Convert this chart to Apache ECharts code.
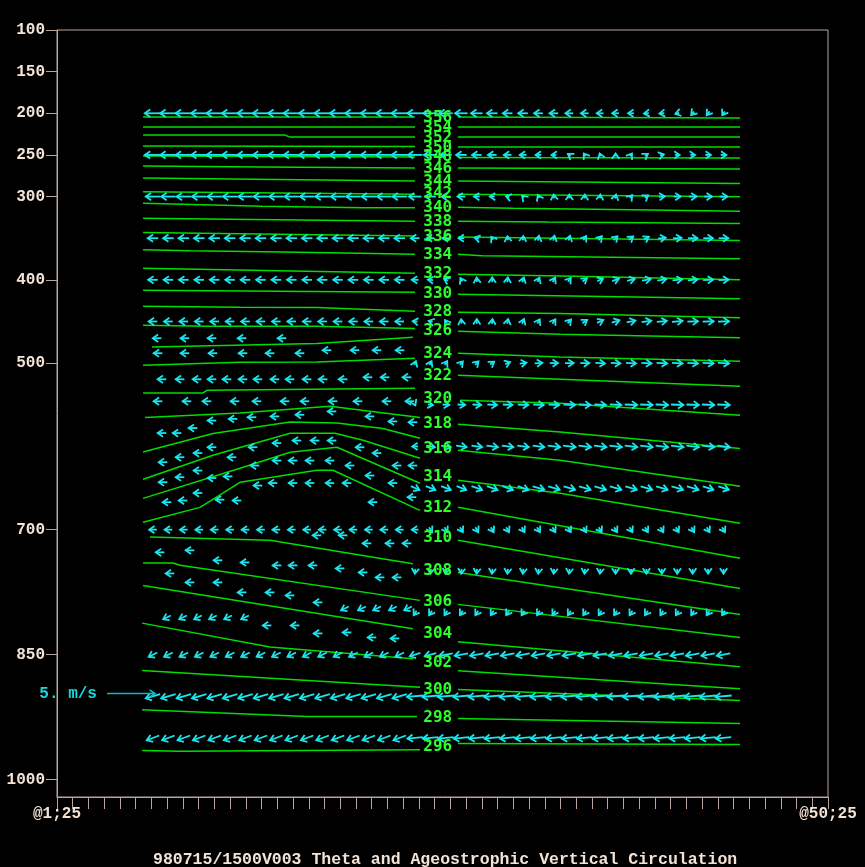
<!DOCTYPE html>
<html><head><meta charset="utf-8">
<script src="https://cdn.jsdelivr.net/npm/echarts@6/dist/echarts.min.js"></script>
<style>html,body{margin:0;padding:0;background:#000;}#c{width:865px;height:867px;}</style>
</head><body><div id="c"></div>
<script>
// ---------- axes / text ----------
const pressureTicks = [100,150,200,250,300,400,500,700,850,1000];
const xTickPos = [1,50];
const xTickLabels = ['@1;25','@50;25'];
const titleText = '980715/1500V003 Theta and Ageostrophic Vertical Circulation';
const refArrow = [5.70, 896.7, 5, 0, '5. m/s'];

// ---------- theta contours ----------
const thetaLevels = [356,354,352,350,348,346,344,342,340,338,336,334,332,330,328,326,324,322,320,318,316,314,312,310,308,306,304,302,300,298,296];
const thetaLabelX = 25.2;
const thetaLabelP = [205.7,217.8,229.8,241.8,252.6,267.0,282.6,297.1,313.9,330.7,348.7,370.4,393.2,417.2,438.8,461.7,489.3,515.8,543.4,573.4,603.5,637.1,673.2,710.4,748.9,786.1,824.6,859.4,891.9,925.5,960.4];
const thetaLeft = [
 [[6.47,204.5],[23.75,204.5]],
 [[6.47,216.6],[23.75,216.6]],
 [[6.47,226.2],[15.49,226.2],[15.81,228.6],[23.75,228.6]],
 [[6.47,239.4],[23.75,240.0]],
 [[6.47,251.4],[23.75,252.6]],
 [[6.47,263.4],[14.0,264.6],[23.75,265.8]],
 [[6.47,277.8],[15.0,279.6],[23.75,281.4]],
 [[6.47,294.1],[23.75,297.1]],
 [[6.47,307.9],[14.03,311.5],[20.45,313.3],[23.75,313.3]],
 [[6.47,325.9],[11.99,327.1],[17.91,328.3],[23.75,329.5]],
 [[6.47,343.3],[23.75,347.5]],
 [[6.47,363.8],[9.45,365.2],[14.22,366.4],[18.35,367.6],[23.75,369.2]],
 [[6.47,386.0],[23.75,392.0]],
 [[6.47,412.4],[23.75,414.8]],
 [[6.47,431.6],[12.63,432.8],[17.52,433.2],[23.75,437.6]],
 [[6.47,454.5],[10.53,455.7],[17.52,455.7],[23.75,458.4]],
 [[7.04,480.5],[17.52,476.5],[23.62,468.9]],
 [[6.47,502.5],[12.63,498.9],[17.52,498.6],[23.75,494.1]],
 [[6.47,535.8],[10.28,535.8],[10.53,532.6],[23.75,530.2]],
 [[6.59,565.4],[12.63,559.9],[18.35,551.8],[24.07,565.4]],
 [[6.47,606.7],[10.91,584.6],[15.81,570.7],[18.79,571.9],[21.72,578.6],[24.07,590.3]],
 [[6.47,639.5],[10.91,610.7],[15.81,584.2],[18.67,584.2],[20.45,592.7],[24.07,614.3]],
 [[6.47,662.4],[12.63,626.3],[15.81,607.1],[18.79,601.1],[24.07,644.3]],
 [[6.47,691.2],[10.09,673.2],[12.63,643.1],[17.52,628.7],[18.54,628.7],[24.07,676.8]],
 [[6.91,708.9],[14.54,712.8],[23.62,740.8]],
 [[6.47,740.1],[8.37,740.1],[8.82,742.8],[24.07,784.9]],
 [[6.47,766.9],[23.62,819.0]],
 [[6.41,812.2],[14.54,841.0],[23.62,855.0]],
 [[6.41,869.0],[24.07,889.1]],
 [[6.41,916.2],[16.89,924.3],[23.88,924.3]],
 [[6.41,965.2],[8.82,966.0],[24.07,964.3]]
];
const thetaRight = [
 [[26.48,204.5],[44.41,205.7]],
 [[26.48,216.6],[44.41,216.6]],
 [[26.48,228.6],[44.41,228.6]],
 [[26.48,240.6],[44.41,240.6]],
 [[26.48,253.2],[44.41,253.8]],
 [[26.48,265.8],[44.41,267.0]],
 [[26.48,281.4],[44.41,284.4]],
 [[26.48,297.1],[44.41,300.1]],
 [[26.48,312.7],[29.98,313.9],[37.61,315.9],[44.41,317.5]],
 [[26.48,329.5],[32.2,330.7],[44.41,332.5]],
 [[26.48,348.7],[44.41,352.9]],
 [[26.48,369.2],[28.01,371.2],[36.27,372.8],[44.41,374.6]],
 [[26.48,393.2],[33.92,395.6],[44.41,399.8]],
 [[26.48,417.2],[37.73,420.5],[44.41,422.6]],
 [[26.48,438.8],[32.97,440.4],[44.41,445.5]],
 [[26.48,461.7],[32.97,465.3],[44.41,469.5]],
 [[26.48,488.1],[32.97,492.6],[44.41,497.7]],
 [[26.48,514.6],[32.97,519.4],[44.41,527.8]],
 [[26.61,544.6],[32.97,548.2],[44.41,562.6]],
 [[26.48,573.4],[32.97,582.7],[44.41,602.6]],
 [[26.48,604.7],[32.97,616.7],[44.41,647.9]],
 [[26.48,640.7],[32.97,656.3],[44.41,692.4]],
 [[26.48,673.2],[44.41,734.4]],
 [[26.48,712.8],[44.41,770.5]],
 [[26.48,751.3],[44.41,801.8]],
 [[26.48,789.7],[44.41,829.4]],
 [[26.48,834.6],[44.41,864.6]],
 [[26.48,869.4],[44.41,891.0]],
 [[26.48,891.9],[44.41,905.1]],
 [[26.48,926.6],[44.41,932.6]],
 [[26.48,956.7],[44.41,957.9]]
];

// ---------- ageostrophic circulation arrows (u, w in m/s) ----------
const arrowX = [7.1,8.08,9.06,10.04,11.02,12.0,12.98,13.96,14.94,15.92,16.9,17.88,18.86,19.84,20.82,21.8,22.78,23.76,24.74,25.72,26.7,27.68,28.66,29.64,30.62,31.6,32.58,33.56,34.54,35.52,36.5,37.48,38.46,39.44,40.42,41.4,42.38,43.36];
const rowP = [200,250,300,350,400,450,500,550,600,650,700,750,800,850,900,950];
const N = null;
const rowU = [
 [-1.7,-1.7,-1.7,-1.7,-1.7,-1.7,-1.7,-1.7,-1.7,-1.7, -1.7,-1.7,-1.7,-1.7,-1.7,-1.7,-1.7,-1.6,-1.5,-1.4, -1.3,-1.2,-1.1,-1.0,-1.0,-0.9,-0.9,-0.8,-0.8,-0.7, -0.7,-0.6,-0.5,-0.5,-0.4,-0.3,-0.3,-0.25],
 [-1.7,-1.7,-1.7,-1.7,-1.7,-1.7,-1.7,-1.7,-1.7,-1.7, -1.7,-1.7,-1.7,-1.7,-1.7,-1.7,-1.7,-1.5,-1.4,-1.2, -1.1,-1.0,-0.9,-0.8,-0.7,-0.6,-0.5,-0.3,-0.2,-0.1, 0,0.2,0.3,0.4,0.5,0.5,0.6,0.6],
 [-1.5,-1.5,-1.5,-1.5,-1.5,-1.5,-1.5,-1.5,-1.5,-1.5, -1.5,-1.5,-1.5,-1.5,-1.5,-1.5,-1.5,-1.3,-1.1,-0.9, -0.8,-0.6,-0.5,-0.35,-0.2,-0.15,-0.05,0,0.02,0.05, 0.1,0.25,0.35,0.6,0.7,0.8,0.8,0.8],
 [-1.1,-1.1,-1.1,-1.1,-1.1,-1.1,-1.1,-1.1,-1.1,-1.1, -1.1,-1.1,-1.1,-1.1,-1.1,-1.1,-1.1,-0.9,-0.8,-0.7, -0.6,-0.45,-0.2,-0.05,0.05,0.1,0.12,0.15,0.3,0.35, 0.4,0.45,0.5,0.8,0.9,1.0,1.0,1.0],
 [-1.0,-1.0,-1.0,-1.0,-1.0,-1.0,-1.0,-1.0,-1.0,-1.0, -1.0,-1.0,-1.0,-1.0,-1.0,-1.0,-1.0,-0.7,-0.55,-0.4, -0.2,-0.05,0,0.05,0.15,0.2,0.25,0.3,0.45,0.6, 0.7,0.8,0.9,0.95,1.0,1.0,1.05,1.05],
 [-0.9,-0.9,-0.9,-0.9,-0.9,-0.9,-0.9,-0.9,-0.9,-0.9, -0.9,-0.9,-0.9,-0.9,-0.9,-0.9,-0.9,-0.5,-0.4,-0.2, -0.05,0,0.05,0.1,0.2,0.25,0.3,0.35,0.5,0.65, 0.8,0.9,1.0,1.05,1.1,1.1,1.15,1.15],
 [N,N,N,N,N,N,N,N,N,N, N,N,N,N,N,N,N,0.15,0.2,0.25, 0.3,0.35,0.4,0.5,0.7,0.8,0.85,0.9,0.95,1.0, 1.0,1.05,1.05,1.1,1.1,1.1,1.15,1.15],
 [N,N,N,N,N,N,N,N,N,N, N,N,N,N,N,N,N,0.05,0.5,0.7, 0.8,0.9,1.0,1.0,1.1,1.1,1.1,1.2,1.2,1.2, 1.2,1.3,1.3,1.3,1.3,1.3,1.3,1.3],
 [N,N,N,N,N,N,N,N,N,N, N,N,N,N,N,N,N,-0.6,0.9,1.0, 1.1,1.1,1.2,1.2,1.2,1.2,1.3,1.3,1.3,1.3, 1.3,1.3,1.3,1.3,1.3,1.3,1.3,1.3],
 [N,N,N,N,N,N,N,N,N,N, N,N,N,N,N,N,N,0.9,1.0,1.0, 1.0,1.1,1.1,1.1,1.1,1.2,1.2,1.2,1.2,1.2, 1.2,1.2,1.2,1.2,1.2,1.2,1.1,1.1],
 [-0.8,-0.8,-0.8,-0.8,-0.8,-0.8,-0.8,-0.8,-0.8,-0.8, -0.8,-0.8,-0.8,-0.8,-0.8,-0.8,-0.8,-0.7,0.3,0.3, 0.3,0.3,0.3,0.3,0.3,0.3,0.3,0.3,0.3,0.3, 0.3,0.3,0.3,0.3,0.3,0.3,0.3,0.3],
 [N,N,N,N,N,N,N,N,N,N, N,N,N,N,N,N,N,-0.05,-0.05,-0.05, -0.05,-0.05,-0.05,-0.05,-0.05,-0.05,-0.05,-0.05,-0.05,-0.05, 0,0,0,0,0,0,0,0],
 [N,N,N,N,N,N,N,N,N,N, N,N,N,N,N,N,N,-0.3,-0.3,-0.3, -0.3,-0.3,-0.3,-0.3,-0.3,-0.3,-0.3,-0.3,-0.3,-0.3, -0.3,-0.3,-0.3,-0.3,-0.3,-0.3,-0.3,-0.3],
 [-0.9,-0.9,-0.9,-0.9,-0.9,-0.9,-0.9,-0.9,-0.9,-0.9, -0.9,-0.9,-0.9,-0.9,-0.9,-0.9,-0.9,-1.1,-1.2,-1.4, -1.4,-1.4,-1.4,-1.4,-1.4,-1.4,-1.4,-1.4,-1.4,-1.4, -1.4,-1.4,-1.4,-1.4,-1.4,-1.4,-1.4,-1.4],
 [-1.5,-1.5,-1.5,-1.5,-1.5,-1.5,-1.5,-1.5,-1.5,-1.5, -1.5,-1.5,-1.5,-1.5,-1.5,-1.5,-1.5,-1.7,-1.7,-1.7, -1.7,-1.7,-1.7,-1.7,-1.7,-1.7,-1.7,-1.7,-1.7,-1.7, -1.7,-1.7,-1.7,-1.7,-1.7,-1.7,-1.7,-1.7],
 [-1.3,-1.3,-1.3,-1.3,-1.3,-1.3,-1.3,-1.3,-1.3,-1.3, -1.3,-1.3,-1.3,-1.3,-1.3,-1.3,-1.3,-1.6,-1.6,-1.6, -1.6,-1.6,-1.6,-1.6,-1.6,-1.6,-1.6,-1.6,-1.6,-1.6, -1.6,-1.6,-1.6,-1.6,-1.6,-1.6,-1.6,-1.6]
];
const rowW = [
 [0,0,0,0,0,0,0,0,0,0, 0,0,0,0,0,0,0,0,0,0, 0,0,0,0,0,0,0,0,0,0, 0,0,-0.05,-0.05,-0.1,-0.35,-0.4,-0.4],
 [0,0,0,0,0,0,0,0,0,0, 0,0,0,0,0,0,0,0,0,0, 0,0,0,0,0,0,0,0.2,0.3,0.3, 0.3,0.3,0.2,0.1,0,0,0,0],
 [0,0,0,0,0,0,0,0,0,0, 0,0,0,0,0,0,0,0,0,0, 0,0,0,0.1,0.2,0.3,0.4,0.4,0.4,0.4, 0.4,0.3,0.25,0.05,0,0,0,0],
 [0,0,0,0,0,0,0,0,0,0, 0,0,0,0,0,0,0,0,0,0, 0,0.1,0.3,0.4,0.45,0.5,0.5,0.5,0.45,0.4, 0.4,0.35,0.3,0.1,0.05,0,0,0],
 [0,0,0,0,0,0,0,0,0,0, 0,0,0,0,0,0,0,0,0.05,0.2, 0.35,0.45,0.5,0.5,0.5,0.45,0.45,0.4,0.35,0.3, 0.25,0.2,0.15,0.15,0.1,0.1,0.05,0.05],
 [0,0,0,0,0,0,0,0,0,0, 0,0,0,0,0,0,0,0.05,0.1,0.3, 0.45,0.5,0.5,0.5,0.5,0.45,0.45,0.4,0.35,0.3, 0.25,0.2,0.15,0.1,0.1,0.05,0.05,0.05],
 [N,N,N,N,N,N,N,N,N,N, N,N,N,N,N,N,N,0.4,0.4,0.4, 0.35,0.35,0.3,0.2,0.1,0.05,0,0,0,-0.05, -0.05,-0.05,-0.05,-0.05,-0.05,-0.05,-0.05,-0.05],
 [N,N,N,N,N,N,N,N,N,N, N,N,N,N,N,N,N,-0.1,-0.05,-0.05, -0.05,-0.05,-0.05,-0.05,-0.05,-0.05,-0.05,-0.05,-0.05,-0.05, -0.05,-0.05,-0.05,-0.05,-0.05,-0.05,-0.05,-0.05],
 [N,N,N,N,N,N,N,N,N,N, N,N,N,N,N,N,N,0,-0.15,-0.15, -0.15,-0.15,-0.15,-0.15,-0.15,-0.15,-0.15,-0.15,-0.15,-0.15, -0.15,-0.15,-0.15,-0.15,-0.15,-0.15,-0.15,-0.15],
 [N,N,N,N,N,N,N,N,N,N, N,N,N,N,N,N,N,-0.4,-0.4,-0.4, -0.4,-0.4,-0.4,-0.4,-0.4,-0.35,-0.35,-0.35,-0.35,-0.35, -0.35,-0.35,-0.35,-0.35,-0.35,-0.35,-0.35,-0.35],
 [0,0,0,0,0,0,0,0,0,0, 0,0,0,0,0,0,0,0,-0.5,-0.5, -0.5,-0.5,-0.5,-0.5,-0.5,-0.5,-0.5,-0.5,-0.5,-0.5, -0.5,-0.5,-0.5,-0.5,-0.5,-0.5,-0.5,-0.5],
 [N,N,N,N,N,N,N,N,N,N, N,N,N,N,N,N,N,-0.5,-0.5,-0.5, -0.5,-0.5,-0.5,-0.5,-0.5,-0.5,-0.5,-0.5,-0.5,-0.5, -0.5,-0.5,-0.5,-0.5,-0.5,-0.5,-0.5,-0.5],
 [N,N,N,N,N,N,N,N,N,N, N,N,N,N,N,N,N,-0.45,-0.45,-0.45, -0.45,-0.45,-0.45,-0.45,-0.45,-0.45,-0.45,-0.45,-0.45,-0.45, -0.45,-0.45,-0.45,-0.45,-0.45,-0.45,-0.45,-0.45],
 [-0.45,-0.45,-0.45,-0.45,-0.45,-0.45,-0.45,-0.45,-0.45,-0.45, -0.45,-0.45,-0.45,-0.45,-0.45,-0.45,-0.45,-0.35,-0.3,-0.25, -0.25,-0.25,-0.25,-0.25,-0.25,-0.25,-0.25,-0.25,-0.25,-0.25, -0.25,-0.25,-0.25,-0.25,-0.25,-0.25,-0.25,-0.25],
 [-0.45,-0.45,-0.45,-0.45,-0.45,-0.45,-0.45,-0.45,-0.45,-0.45, -0.45,-0.45,-0.45,-0.45,-0.45,-0.45,-0.45,-0.15,-0.15,-0.15, -0.15,-0.15,-0.15,-0.15,-0.15,-0.15,-0.15,-0.15,-0.15,-0.15, -0.15,-0.15,-0.15,-0.15,-0.15,-0.15,-0.15,-0.15],
 [-0.5,-0.5,-0.5,-0.5,-0.5,-0.5,-0.5,-0.5,-0.5,-0.5, -0.5,-0.5,-0.5,-0.5,-0.5,-0.5,-0.5,-0.15,-0.15,-0.15, -0.15,-0.15,-0.15,-0.15,-0.15,-0.15,-0.15,-0.15,-0.15,-0.15, -0.15,-0.15,-0.15,-0.15,-0.15,-0.15,-0.15,-0.15]
];
// scattered arrows in the left mid-troposphere: [x, p, u, w]
const leftMidArrows = [
 [7.36,470.1,-0.9,0],[9.13,470.1,-0.9,0],[10.85,470.1,-0.9,0],[12.76,470.1,-0.9,0],[15.30,470.1,-0.9,0],
 [7.42,488.1,-0.9,0],[9.13,488.1,-0.9,0],[10.91,488.1,-0.9,0],[12.82,488.1,-0.9,0],[14.54,488.1,-0.9,0],[16.44,488.1,-0.9,0],[18.16,484.5,-0.9,0],[19.94,484.5,-0.9,0],[21.34,484.5,-0.9,0],[22.80,484.5,-0.9,0],
 [7.67,519.4,-0.9,0],[8.82,519.4,-0.9,0],[9.90,519.4,-0.9,0],[10.85,519.4,-0.9,0],[11.80,519.4,-0.9,0],[12.82,519.4,-0.9,0],[13.77,519.4,-0.9,0],[14.85,519.4,-0.9,0],[15.81,519.4,-0.9,0],[16.89,519.4,-0.9,0],[17.91,519.4,-0.9,0],[19.18,519.4,-0.9,0],[20.76,517.0,-0.9,0],[21.85,517.0,-0.9,0],[23.24,517.0,-0.9,0],
 [7.42,545.8,-0.9,0],[9.26,545.8,-0.9,0],[10.53,545.8,-0.9,0],[12.31,545.8,-0.9,0],[13.71,545.8,-0.9,0],[15.49,545.8,-0.9,0],[16.76,545.8,-0.9,0],[18.54,545.8,-0.9,0],[20.13,545.8,-0.9,0],[21.97,545.8,-0.9,0],[23.43,545.8,-0.9,0],
 [10.85,569,-0.9,0],[12.19,567,-0.9,0],[13.39,565,-0.9,0],[14.85,564,-0.9,0],[16.44,562,-0.9,0],[18.48,558,-0.9,0],[20.89,564,-0.9,0],[22.35,570,-0.9,0],[23.62,571,-0.9,0],
 [7.67,584,-0.9,0],[8.63,584,-0.9,0],[9.64,578,-0.9,0],
 [7.74,619,-0.9,0],[8.82,613,-0.9,0],[9.96,608,-0.9,0],[10.85,601,-0.9,0],[12.12,613,-0.9,0],[13.46,601,-0.9,0],[14.98,596,-0.9,0],[16.25,593,-0.9,0],[17.40,593,-0.9,0],[18.48,593,-0.9,0],[20.26,601,-0.9,0],[21.34,608,-0.9,0],[22.61,623,-0.9,0],[23.62,623,-0.9,0],
 [7.74,643,-0.9,0],[8.82,637,-0.9,0],[9.96,629,-0.9,0],[10.85,638,-0.9,0],[11.87,636,-0.9,0],[13.58,623,-0.9,0],[14.98,617,-0.9,0],[16.0,617,-0.9,0],[17.08,617,-0.9,0],[18.35,617,-0.9,0],[19.62,623,-0.9,0],[20.89,635,-0.9,0],[22.35,644,-0.9,0],[23.56,661,-0.9,0],
 [7.99,667,-0.9,0],[9.01,665,-0.9,0],[9.96,656,-0.9,0],[11.36,664,-0.9,0],[12.44,665,-0.9,0],[13.77,647,-0.9,0],[14.73,644,-0.9,0],[16.0,644,-0.9,0],[17.08,644,-0.9,0],[18.35,644,-0.9,0],[19.43,644,-0.9,0],[21.08,667,-0.9,0],
 [17.52,706.8,-0.9,0],[19.18,706.8,-0.9,0],[20.70,716.4,-0.9,0],[22.16,716.4,-0.9,0],[23.24,716.4,-0.9,0],
 [7.55,727.2,-0.9,0],[9.45,724.8,-0.9,0],[11.23,736.8,-0.9,0],[12.95,739.3,-0.9,0],[14.98,742.9,-0.9,0],[16.0,742.9,-0.9,0],[17.27,742.9,-0.9,0],[18.99,746.5,-0.9,0],[20.45,751.3,-0.9,0],[21.53,757.3,-0.9,0],[22.61,757.3,-0.9,0],
 [8.18,752.5,-0.9,0],[9.45,763.3,-0.9,0],[11.23,763.3,-0.9,0],[12.76,775.3,-0.9,0],[14.54,775.3,-0.9,0],[15.81,778.9,-0.9,0],[17.59,787.3,-0.9,0],
 [7.99,805.3,-0.8,-0.4],[9.01,805.3,-0.8,-0.4],[9.96,805.3,-0.8,-0.4],[10.91,805.3,-0.8,-0.4],[11.87,805.3,-0.8,-0.4],[12.95,805.3,-0.8,-0.4],
 [14.35,815,-0.9,0],[16.13,815,-0.9,0],[17.59,824.6,-0.9,0],[19.43,823.4,-0.9,0],[21.02,829.4,-0.9,0],[22.48,830.6,-0.9,0],
 [19.30,794.5,-0.8,-0.4],[20.38,794.5,-0.8,-0.4],[21.34,794.5,-0.8,-0.4],[22.35,794.5,-0.8,-0.4],[23.31,794.5,-0.8,-0.4]
];

// ---------- styles ----------
const AXIS_COLOR = '#b9a59b';
const TEXT_COLOR = '#f3e2d6';
const LINE_COLOR = '#00dd00';
const LABEL_COLOR = '#2cff2c';
const ARROW_COLOR = '#1ae6ee';
const PX_PER_MS = 9.6;
const HEAD = 6.5, HEAD_ANG = 0.6;

const arrowData = [];
rowP.forEach((p, r) => {
  arrowX.forEach((x, i) => {
    const u = rowU[r][i], w = rowW[r][i];
    if (u !== null && w !== null) arrowData.push([x, p, u, w]);
  });
});
leftMidArrows.forEach(a => arrowData.push(a));

function arrowShapes(c, u, w, style) {
  const dx = u * PX_PER_MS, dy = -w * PX_PER_MS;
  const hx = c[0] + dx / 2, hy = c[1] + dy / 2;
  const tx = c[0] - dx / 2, ty = c[1] - dy / 2;
  const ang = Math.atan2(dy, dx);
  const b1 = [hx - HEAD * Math.cos(ang - HEAD_ANG), hy - HEAD * Math.sin(ang - HEAD_ANG)];
  const b2 = [hx - HEAD * Math.cos(ang + HEAD_ANG), hy - HEAD * Math.sin(ang + HEAD_ANG)];
  return [
    {type: 'polyline', shape: {points: [[tx, ty], [hx, hy]]}, style: style},
    {type: 'polyline', shape: {points: [b1, [hx, hy], b2]}, style: style}
  ];
}

const series = [];
thetaLevels.forEach((lev, k) => {
  [thetaLeft[k], thetaRight[k]].forEach(seg => {
    series.push({
      type: 'line', data: seg, symbol: 'none', silent: true, animation: false, z: 2,
      lineStyle: {color: LINE_COLOR, width: 1.5}
    });
  });
});
series.push({
  type: 'custom', silent: true, animation: false, z: 5,
  data: thetaLevels.map((v, k) => [thetaLabelX, thetaLabelP[k], v]),
  renderItem: function (params, api) {
    const c = api.coord([api.value(0), api.value(1)]);
    return {type: 'text', x: c[0], y: c[1],
      style: {text: String(api.value(2)), fill: LABEL_COLOR, font: 'bold 16px "DejaVu Sans Mono"', align: 'center', verticalAlign: 'middle'}};
  }
});
series.push({
  type: 'custom', silent: true, animation: false, z: 4, clip: false,
  data: arrowData,
  renderItem: function (params, api) {
    const c = api.coord([api.value(0), api.value(1)]);
    const st = {stroke: ARROW_COLOR, lineWidth: 1.8, fill: null};
    return {type: 'group', children: arrowShapes(c, api.value(2), api.value(3), st)};
  }
});
series.push({
  type: 'custom', silent: true, animation: false, z: 4, clip: false,
  data: [refArrow],
  renderItem: function (params, api) {
    const c = api.coord([api.value(0), api.value(1)]);
    const st = {stroke: '#10b8c4', lineWidth: 1.6, fill: null};
    const ch = arrowShapes(c, api.value(2), api.value(3), st);
    const tailX = c[0] - api.value(2) * PX_PER_MS / 2;
    ch.push({type: 'text', x: tailX - 10, y: c[1],
      style: {text: refArrow[4], fill: '#19d6df', font: 'bold 16px "Liberation Mono"', align: 'right', verticalAlign: 'middle'}});
    return {type: 'group', children: ch};
  }
});

const chart = echarts.init(document.getElementById('c'), null, {renderer: 'canvas', width: 865, height: 867});
chart.setOption({
  backgroundColor: '#000000',
  animation: false,
  title: {text: titleText, left: 148, top: 846,
    textStyle: {color: TEXT_COLOR, fontFamily: 'Liberation Mono', fontWeight: 'bold', fontSize: 16.5}},
  grid: {left: 57, right: 37, top: 30, bottom: 70, containLabel: false, outerBoundsMode: 'none',
    show: true, borderColor: AXIS_COLOR, borderWidth: 1, backgroundColor: 'transparent'},
  xAxis: {
    type: 'value', min: 1, max: 50, interval: 1,
    axisLine: {show: true, lineStyle: {color: AXIS_COLOR, width: 1}},
    axisTick: {show: true, length: 12, lineStyle: {color: AXIS_COLOR, width: 1}},
    splitLine: {show: false},
    axisLabel: {customValues: xTickPos, margin: 9, color: TEXT_COLOR, fontFamily: 'Liberation Mono', fontWeight: 'bold', fontSize: 16,
      formatter: v => xTickLabels[xTickPos.indexOf(v)]}
  },
  yAxis: {
    type: 'value', inverse: true, min: 100, max: 1021,
    axisLine: {show: true, lineStyle: {color: AXIS_COLOR, width: 1}},
    axisTick: {show: true, customValues: pressureTicks, length: 11, lineStyle: {color: AXIS_COLOR, width: 1}},
    splitLine: {show: false},
    axisLabel: {customValues: pressureTicks, margin: 12, color: TEXT_COLOR, fontFamily: 'Liberation Mono', fontWeight: 'bold', fontSize: 16,
      formatter: v => String(v)}
  },
  series: series
});
</script>
</body></html>
